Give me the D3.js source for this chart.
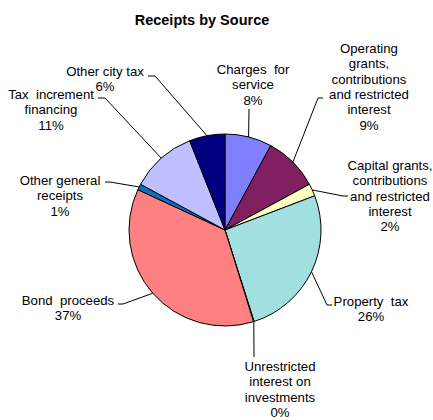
<!DOCTYPE html>
<html>
<head>
<meta charset="utf-8">
<script src="https://cdn.jsdelivr.net/npm/d3@7"></script>
<style>
  body { margin: 0; background: #fff; }
</style>
</head>
<body>
<script>
// Receipts by Source pie

var w = 433;
var h = 420;

// data
var categories = ["Charges for service", "Operating grants, contributions and restricted interest",
  "Capital grants, contributions and restricted interest", "Property tax",
  "Unrestricted interest on investments", "Bond proceeds", "Other general receipts",
  "Tax increment financing", "Other city tax"];
var values = [7.9, 9.2, 2.1, 25.9, 0.1, 36.7, 1.0, 11.1, 6.0];
var colors = ["#8080ff", "#802060", "#ffffc0", "#a0e0e0", "#ffffff", "#ff8080", "#1070c0", "#c0c0ff", "#000080"];

// label layout (wrapped lines, anchor centre x, first baseline, leader knee points)
var labelLines = [
  ["Charges  for", "service"],
  ["Operating", "grants,", "contributions", "and restricted", "interest"],
  ["Capital grants,", "contributions", "and restricted", "interest"],
  ["Property  tax"],
  ["Unrestricted", "interest on", "investments"],
  ["Bond  proceeds"],
  ["Other general", "receipts"],
  ["Tax  increment", "financing"],
  ["Other city tax"]
];
var labelX = [253, 369, 390, 371, 280, 68, 60, 51, 105];
var labelY = [74, 53, 170, 306, 371, 305, 185, 99, 76];
var leaders = [
  [[249, 109]],
  [[318, 98], [323, 98]],
  [[343, 196], [348, 196]],
  [[327, 305], [332, 305]],
  [[254, 357]],
  [[123, 304], [118, 304]],
  [[110, 182], [105, 182]],
  [[105, 98], [98, 98]],
  [[155, 76], [148, 76]]
];
var lineH = 15.3;

var cx = 225, cy = 230, r = 96;
var total = d3.sum(values);
var fmt = d3.format(".0%");

var svg = d3.select("body")
  .append("svg")
  .attr("width", w)
  .attr("height", h)
  .style("font-family", "'Liberation Sans', Arial, sans-serif");

// title
svg.append("text")
  .attr("x", 202)
  .attr("y", 25)
  .attr("text-anchor", "middle")
  .attr("font-size", "14.5px")
  .attr("font-weight", "bold")
  .text("Receipts by Source");

var pie = d3.pie().sort(null).value(function(d) { return d; });
var arcs = pie(values);
var arc = d3.arc().innerRadius(0).outerRadius(r);
var edge = d3.arc().innerRadius(r).outerRadius(r);

var g = svg.append("g").attr("transform", "translate(" + cx + "," + cy + ")");

g.selectAll("path")
  .data(arcs)
  .enter()
  .append("path")
  .attr("d", arc)
  .attr("fill", function(d, i) { return colors[i]; })
  .attr("stroke", "#000")
  .attr("stroke-width", 1)
  .attr("stroke-linejoin", "round");

// leader lines
svg.selectAll("polyline")
  .data(arcs)
  .enter()
  .append("polyline")
  .attr("points", function(d, i) {
    var c = edge.centroid(d);
    var pts = [[cx + c[0], cy + c[1]]].concat(leaders[i]);
    return pts.map(function(p) { return p.join(","); }).join(" ");
  })
  .attr("fill", "none")
  .attr("stroke", "#000")
  .attr("stroke-width", 1);

// labels
var labels = svg.selectAll("text.lbl")
  .data(arcs)
  .enter()
  .append("text")
  .attr("class", "lbl")
  .attr("text-anchor", "middle")
  .attr("font-size", "13.2px")
  .attr("fill", "#000")
  .style("white-space", "pre");

labels.each(function(d, i) {
  var t = d3.select(this);
  var lines = labelLines[i].concat([fmt(d.data / total)]);
  lines.forEach(function(s, k) {
    t.append("tspan")
      .attr("x", labelX[i])
      .attr("y", labelY[i] + k * lineH)
      .text(s);
  });
});
</script>
</body>
</html>
